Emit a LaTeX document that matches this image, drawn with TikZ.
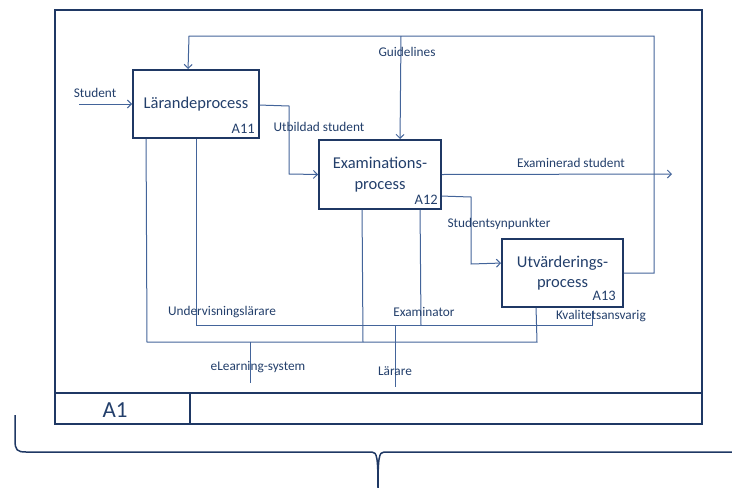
\documentclass[tikz,border=0pt]{standalone}
\usepackage{fontspec}
\setmainfont{Carlito}
\usetikzlibrary{arrows.meta,calc}
\definecolor{navy}{HTML}{1F3864}
\definecolor{linec}{HTML}{43649A}
\definecolor{textc}{HTML}{233F6B}
\begin{document}
\begin{tikzpicture}[x=1pt,y=-1pt,
  box/.style={draw=navy, line width=1.9pt, inner sep=0pt, align=center, text=textc,
    font=\fontsize{16.5}{20.5}\selectfont},
  idlbl/.style={text=textc, inner sep=0pt, anchor=base east, font=\fontsize{14.5}{16}\selectfont},
  flow/.style={draw=linec, line width=1pt},
  arr/.style={flow, -{Straight Barb[length=4pt,width=8pt,line width=1pt]}},
  lbl/.style={text=textc, inner sep=0pt, font=\fontsize{13.3}{15}\selectfont},
  frame/.style={draw=navy, line width=1.4pt}
]
\useasboundingbox (0,0) rectangle (732,488);
% frame
\draw[frame] (55,10) rectangle (702,424);
\draw[frame] (55,393) -- (702,393);
\draw[frame] (190,393) -- (190,424);
\node[text=textc, font=\fontsize{23}{26}\selectfont, inner sep=0pt] (a1) at (115,410) {A1};
% brace
\draw[navy, line width=1.5pt] (15,415) -- (15,440) .. controls (15,450) and (17,452) .. (26,452)
  -- (372,452) .. controls (377,452) and (378,458) .. (378,488);
\draw[navy, line width=1.5pt] (732,452) -- (384,452) .. controls (379,452) and (378,458) .. (378,488);
% boxes
\node[box, minimum width=126pt, minimum height=68pt] (a11) at (196,104) {Lärandeprocess};
\node[box, minimum width=122pt, minimum height=69pt] (a12) at (380,174.5) {Examinations-\\process};
\node[box, minimum width=121pt, minimum height=68pt] (a13) at (562.5,273) {Utvärderings-\\process};
\node[idlbl] (a11id) at (255,133) {A11};
\node[idlbl] (a12id) at (438,204) {A12};
\node[idlbl] (a13id) at (616,300) {A13};
% coordinates
\coordinate (stu) at (79,104);
\coordinate (gtop) at (401,36);
\coordinate (kv) at (592,311);
\coordinate (elb) at (250,383);
\coordinate (lab) at (395,387);
\coordinate (exo) at (672,174);
% input
\draw[arr] (stu) -- (a11.west);
\node[lbl] (lstu) at (95,93) {Student};
% feedback / guidelines
\draw[arr] (a13.east) -- (654,273) -- (654,36) -- (189,36) -- ($(a11.north west)+(56,0)$);
\draw[arr] (gtop) -- ($(a12.north west)+(82,0)$);
\node[lbl] (lguide) at (407,52) {Guidelines};
% outputs
\draw[arr] ($(a11.north east)+(0,36)$) -- (289,106) -- (289,174) -- (a12.west);
\node[lbl] (lutb) at (319,127) {Utbildad student};
\draw[arr] (a12.east) -- (exo);
\node[lbl] (lexa) at (571,163) {Examinerad student};
\draw[arr] ($(a12.north east)+(0,57)$) -- (471,197) -- (471,264) -- ($(a13.north west)+(0,25)$);
\node[lbl] (lsyn) at (499,224) {Studentsynpunkter};
% mechanisms
\draw[flow] ($(a11.south west)+(14,0)$) -- (147,342) -- (537,342) -- ($(a13.south west)+(35,0)$);
\draw[flow] ($(a12.south west)+(44,0)$) -- (363,342);
\draw[flow] (250,342) -- (elb);
\draw[flow] (a11.south) -- (196,325) -- (592,325) -- (kv);
\draw[flow] ($(a12.south west)+(102,0)$) -- (421,325);
\draw[flow] (395,325) -- (lab);
\node[lbl] (lund) at (222,312) {Undervisningslärare};
\node[lbl] (lexr) at (424,312) {Examinator};
\node[lbl] (lkva) at (601,316) {Kvalitetsansvarig};
\node[lbl] (lel) at (258,367) {eLearning-system};
\node[lbl] (llar) at (395,371) {Lärare};
\end{tikzpicture}
\end{document}
